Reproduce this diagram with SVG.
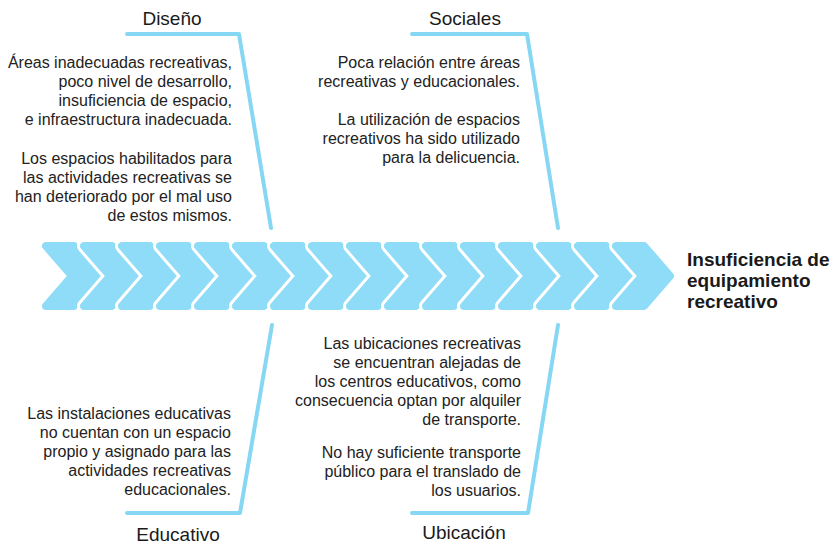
<svg xmlns="http://www.w3.org/2000/svg" xmlns:xlink="http://www.w3.org/1999/xlink" width="837" height="546" viewBox="0 0 837 546">
<style>
.t{font-family:"Liberation Sans",Arial,sans-serif;font-size:16px;fill:#222;text-anchor:end}
.h{font-family:"Liberation Sans",Arial,sans-serif;font-size:19px;fill:#1a1a1a;text-anchor:middle}
.e{font-family:"Liberation Sans",Arial,sans-serif;font-size:19px;font-weight:bold;fill:#1a1a1a}
.bone{fill:none;stroke:#86d7f3;stroke-width:4;stroke-linecap:round;stroke-linejoin:round}
.halo{fill:#fff;stroke:#fff;stroke-width:14;stroke-linejoin:round}
.chev{fill:#8edcf7;stroke:#8edcf7;stroke-width:8;stroke-linejoin:round}
</style>
<defs>
<path id="cv" d="M0,0 L28,0 L54,30 L28,60 L0,60 L26,30 Z"/>
</defs>
<rect width="837" height="546" fill="#fff"/>
<g id="spine">
<g transform="translate(46,246)"><use xlink:href="#cv" class="halo"/><use xlink:href="#cv" class="chev"/></g>
<g transform="translate(84,246)"><use xlink:href="#cv" class="halo"/><use xlink:href="#cv" class="chev"/></g>
<g transform="translate(122,246)"><use xlink:href="#cv" class="halo"/><use xlink:href="#cv" class="chev"/></g>
<g transform="translate(160,246)"><use xlink:href="#cv" class="halo"/><use xlink:href="#cv" class="chev"/></g>
<g transform="translate(198,246)"><use xlink:href="#cv" class="halo"/><use xlink:href="#cv" class="chev"/></g>
<g transform="translate(236,246)"><use xlink:href="#cv" class="halo"/><use xlink:href="#cv" class="chev"/></g>
<g transform="translate(274,246)"><use xlink:href="#cv" class="halo"/><use xlink:href="#cv" class="chev"/></g>
<g transform="translate(312,246)"><use xlink:href="#cv" class="halo"/><use xlink:href="#cv" class="chev"/></g>
<g transform="translate(350,246)"><use xlink:href="#cv" class="halo"/><use xlink:href="#cv" class="chev"/></g>
<g transform="translate(388,246)"><use xlink:href="#cv" class="halo"/><use xlink:href="#cv" class="chev"/></g>
<g transform="translate(426,246)"><use xlink:href="#cv" class="halo"/><use xlink:href="#cv" class="chev"/></g>
<g transform="translate(464,246)"><use xlink:href="#cv" class="halo"/><use xlink:href="#cv" class="chev"/></g>
<g transform="translate(502,246)"><use xlink:href="#cv" class="halo"/><use xlink:href="#cv" class="chev"/></g>
<g transform="translate(540,246)"><use xlink:href="#cv" class="halo"/><use xlink:href="#cv" class="chev"/></g>
<g transform="translate(578,246)"><use xlink:href="#cv" class="halo"/><use xlink:href="#cv" class="chev"/></g>
<g transform="translate(616,246)"><use xlink:href="#cv" class="halo"/><use xlink:href="#cv" class="chev"/></g>
</g>
<g id="connectors">
<path class="bone" d="M127,34 L239,34 L271,228"/>
<path class="bone" d="M412,34 L527,34 L558,228"/>
<path class="bone" d="M272,325 L240,513 L127,513"/>
<path class="bone" d="M558,325 L528,513 L412,513"/>
</g>
<g id="effect">
<text class="e" x="687" y="266">Insuficiencia de</text>
<text class="e" x="687" y="287">equipamiento</text>
<text class="e" x="687" y="308">recreativo</text>
</g>
<g id="diseno">
<text class="h" x="172" y="25">Diseño</text>
<text class="t" x="232" y="68">Áreas inadecuadas recreativas,</text>
<text class="t" x="232" y="87">poco nivel de desarrollo,</text>
<text class="t" x="232" y="106">insuficiencia de espacio,</text>
<text class="t" x="232" y="125">e infraestructura inadecuada.</text>
<text class="t" x="232" y="164">Los espacios habilitados para</text>
<text class="t" x="232" y="183">las actividades recreativas se</text>
<text class="t" x="232" y="202">han deteriorado por el mal uso</text>
<text class="t" x="232" y="221">de estos mismos.</text>
</g>
<g id="sociales">
<text class="h" x="465" y="25">Sociales</text>
<text class="t" x="520" y="68">Poca relación entre áreas</text>
<text class="t" x="520" y="87">recreativas y educacionales.</text>
<text class="t" x="520" y="125">La utilización de espacios</text>
<text class="t" x="520" y="144">recreativos ha sido utilizado</text>
<text class="t" x="520" y="163">para la delicuencia.</text>
</g>
<g id="educativo">
<text class="h" x="178" y="541">Educativo</text>
<text class="t" x="231" y="419">Las instalaciones educativas</text>
<text class="t" x="231" y="438">no cuentan con un espacio</text>
<text class="t" x="231" y="457">propio y asignado para las</text>
<text class="t" x="231" y="476">actividades recreativas</text>
<text class="t" x="231" y="495">educacionales.</text>
</g>
<g id="ubicacion">
<text class="h" x="464" y="539">Ubicación</text>
<text class="t" x="521" y="349">Las ubicaciones recreativas</text>
<text class="t" x="521" y="368">se encuentran alejadas de</text>
<text class="t" x="521" y="387">los centros educativos, como</text>
<text class="t" x="521" y="406">consecuencia optan por alquiler</text>
<text class="t" x="521" y="425">de transporte.</text>
<text class="t" x="521" y="458">No hay suficiente transporte</text>
<text class="t" x="521" y="477">público para el translado de</text>
<text class="t" x="521" y="496">los usuarios.</text>
</g>
</svg>
